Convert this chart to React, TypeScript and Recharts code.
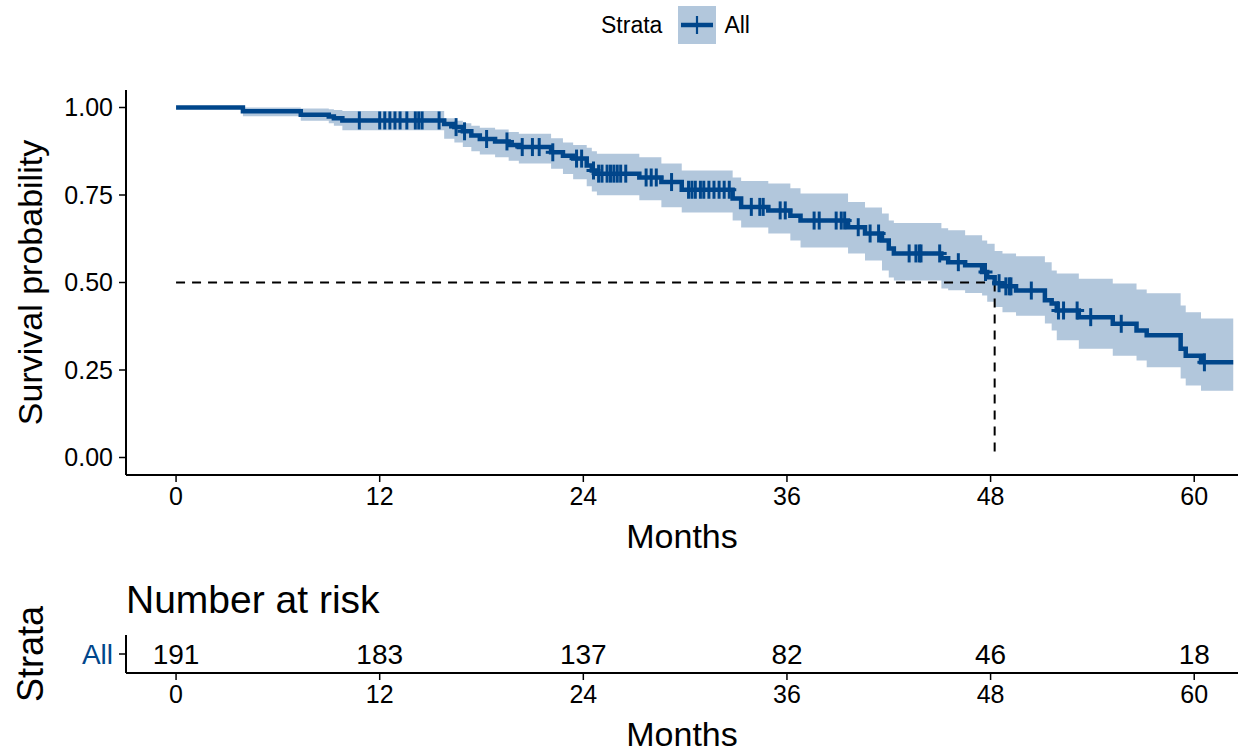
import React from 'react';
import {
  ComposedChart,
  Area,
  Line,
  Scatter,
  XAxis,
  YAxis,
  ReferenceLine,
} from 'recharts';

const FONT = '"Liberation Sans", Arial, Helvetica, sans-serif';
const BLUE = '#00468B';
const BAND = '#B2C7DC';

// Kaplan-Meier estimate: event times (months), survival and 95% confidence limits
const eventTimes = [
  0, 3.94, 7.35, 9.0, 9.3, 9.8, 15.8, 16.4, 16.9, 17.4, 17.9, 18.8, 19.6, 20.2,
  22.1, 22.8, 23.4, 24.2, 24.5, 24.8, 27.3, 28.6, 29.8, 32.8, 33.3, 34.9, 36.2,
  36.8, 39.6, 40.6, 41.6, 42.0, 42.3, 45.1, 45.5, 46.5, 47.5, 47.8, 48.24, 48.7,
  49.5, 51.2, 51.6, 51.9, 53.2, 55.2, 56.6, 57.2, 59.2, 59.5, 60.4, 62.3,
];
const survival = [
  1, 0.989, 0.979, 0.974, 0.969, 0.963, 0.953, 0.944, 0.932, 0.92, 0.91, 0.903,
  0.893, 0.887, 0.872, 0.862, 0.854, 0.834, 0.82, 0.811, 0.8, 0.787, 0.765, 0.74,
  0.716, 0.706, 0.691, 0.677, 0.658, 0.64, 0.62, 0.597, 0.583, 0.569, 0.558,
  0.549, 0.53, 0.515, 0.498, 0.489, 0.477, 0.449, 0.44, 0.42, 0.401, 0.382,
  0.363, 0.349, 0.311, 0.291, 0.272, 0.272,
];
const lowerCI = [
  1, 0.975, 0.962, 0.955, 0.948, 0.935, 0.911, 0.9, 0.887, 0.875, 0.866, 0.858,
  0.848, 0.84, 0.825, 0.81, 0.795, 0.775, 0.76, 0.749, 0.735, 0.715, 0.7, 0.677,
  0.657, 0.64, 0.62, 0.6, 0.583, 0.563, 0.534, 0.514, 0.506, 0.483, 0.478, 0.47,
  0.463, 0.445, 0.43, 0.415, 0.405, 0.383, 0.363, 0.335, 0.311, 0.291, 0.277,
  0.258, 0.226, 0.206, 0.191, 0.191,
];
const upperCI = [
  1, 1, 0.997, 0.995, 0.993, 0.99, 0.969, 0.962, 0.955, 0.948, 0.942, 0.937,
  0.93, 0.925, 0.912, 0.9, 0.893, 0.885, 0.875, 0.868, 0.858, 0.84, 0.82, 0.8,
  0.79, 0.783, 0.769, 0.754, 0.73, 0.714, 0.697, 0.677, 0.67, 0.655, 0.649,
  0.635, 0.62, 0.611, 0.59, 0.583, 0.575, 0.558, 0.534, 0.526, 0.511, 0.497,
  0.48, 0.469, 0.434, 0.415, 0.397, 0.397,
];

// Censoring times (months)
const censorTimes = [
  10.8, 12.0, 12.3, 12.6, 12.9, 13.2, 13.6, 14.1, 14.3, 14.5, 15.5, 16.5, 17.0,
  18.3, 19.5, 20.4, 21.0, 21.4, 22.2, 23.6, 23.9, 24.6, 24.9, 25.1, 25.4, 25.6,
  25.8, 26.0, 26.2, 26.5, 27.7, 28.0, 28.3, 29.2, 30.2, 30.4, 30.6, 30.9, 31.1,
  31.4, 31.7, 32.0, 32.3, 32.6, 33.9, 34.4, 34.6, 35.6, 35.9, 37.6, 37.9, 38.9,
  39.2, 39.4, 40.2, 40.9, 41.4, 43.2, 43.6, 43.8, 43.9, 45.0, 46.1, 47.7, 48.5,
  48.9, 49.1, 49.2, 50.4, 52.0, 52.3, 53.1, 53.9, 55.7, 60.6,
];

// Number at risk table
const riskTimes = [0, 12, 24, 36, 48, 60];
const riskCounts = [191, 183, 137, 82, 46, 18];

const xTicks = [0, 12, 24, 36, 48, 60];
const yTicks = [0, 0.25, 0.5, 0.75, 1];
const xDomain: [number, number] = [-2.95, 62.58];

const curveData = eventTimes.map((t, i) => ({
  t,
  s: survival[i],
  band: [lowerCI[i], upperCI[i]],
}));

const survivalAt = (t: number) => {
  let v = survival[0];
  for (let i = 0; i < eventTimes.length; i++) {
    if (eventTimes[i] <= t) v = survival[i];
  }
  return v;
};

const censorData = censorTimes.map((t) => ({ t, s: survivalAt(t) }));
const medianIndex = survival.findIndex((s) => s <= 0.5);
const medianTime = eventTimes[medianIndex];

const riskData = riskTimes.map((t, i) => ({ t, y: 0.5, n: riskCounts[i] }));

const PlusMark = (props: any) => {
  const { cx, cy } = props;
  if (cx == null || cy == null) return null;
  return (
    <g>
      <line x1={cx} x2={cx} y1={cy - 9} y2={cy + 9} stroke={BLUE} strokeWidth={3} />
      <line x1={cx - 7} x2={cx + 7} y1={cy} y2={cy} stroke={BLUE} strokeWidth={3} />
    </g>
  );
};

const RiskText = (props: any) => {
  const { cx, cy, payload } = props;
  if (cx == null || cy == null) return null;
  return (
    <text
      x={cx}
      y={cy}
      textAnchor="middle"
      dominantBaseline="central"
      fontFamily={FONT}
      fontSize={28}
      fill="#000"
    >
      {payload.n}
    </text>
  );
};

const tickStyle = { fill: '#000', fontSize: 25, fontFamily: FONT };
const axisLine = { stroke: '#000', strokeWidth: 2 };
const tickLine = { stroke: '#000', strokeWidth: 1.5 };

const RotatedTitle = (text: string, size: number) => (p: any) => {
  const vb = p.viewBox;
  const x = 30;
  const y = vb.y + vb.height / 2;
  return (
    <text
      x={x}
      y={y}
      transform={`rotate(-90 ${x} ${y})`}
      textAnchor="middle"
      dominantBaseline="central"
      fontFamily={FONT}
      fontSize={size}
      fill="#000"
    >
      {text}
    </text>
  );
};

const BottomTitle = (p: any) => {
  const vb = p.viewBox;
  return (
    <text
      x={vb.x + vb.width / 2}
      y={vb.y + 61}
      textAnchor="middle"
      dominantBaseline="central"
      fontFamily={FONT}
      fontSize={34}
      fill="#000"
    >
      Months
    </text>
  );
};

export default function App() {
  return (
    <div
      style={{
        position: 'absolute',
        left: 0,
        top: 0,
        width: 1238,
        height: 755,
        background: '#fff',
        fontFamily: FONT,
      }}
    >
      {/* legend */}
      <div
        style={{
          position: 'absolute',
          left: 601,
          top: 6,
          height: 38,
          display: 'flex',
          alignItems: 'center',
          fontSize: 23,
          lineHeight: 1,
          color: '#000',
        }}
      >
        <span style={{ marginRight: 16 }}>Strata</span>
        <svg width={38} height={38} style={{ display: 'block' }}>
          <rect x={0} y={0} width={38} height={38} fill={BAND} />
          <line x1={3} x2={35} y1={19} y2={19} stroke={BLUE} strokeWidth={4.5} />
          <line x1={19} x2={19} y1={10} y2={28} stroke={BLUE} strokeWidth={2.2} />
        </svg>
        <span style={{ marginLeft: 8 }}>All</span>
      </div>

      <div style={{ position: 'absolute', left: 0, top: 0 }}>
        <ComposedChart
          width={1238}
          height={560}
          data={curveData}
          margin={{ top: 90, right: 0, bottom: 0, left: 0 }}
        >
          <XAxis
            type="number"
            dataKey="t"
            domain={xDomain}
            allowDataOverflow
            ticks={xTicks}
            tick={tickStyle}
            tickSize={7}
            tickMargin={5}
            axisLine={axisLine}
            tickLine={tickLine}
            height={85}
            label={{ content: BottomTitle }}
          />
          <YAxis
            type="number"
            domain={[-0.05, 1.05]}
            allowDataOverflow
            ticks={yTicks}
            tickFormatter={(v: number) => v.toFixed(2)}
            tick={tickStyle}
            tickSize={7}
            tickMargin={6}
            axisLine={axisLine}
            tickLine={tickLine}
            width={126}
            label={{ content: RotatedTitle('Survival probability', 34) }}
          />
          <Area
            type="stepAfter"
            dataKey="band"
            stroke="none"
            fill={BLUE}
            fillOpacity={0.3}
            isAnimationActive={false}
          />
          <ReferenceLine
            segment={[
              { x: 0, y: 0.5 },
              { x: medianTime, y: 0.5 },
            ]}
            stroke="#000"
            strokeWidth={2}
            strokeDasharray="9 7"
          />
          <ReferenceLine
            segment={[
              { x: medianTime, y: 0.5 },
              { x: medianTime, y: 0 },
            ]}
            stroke="#000"
            strokeWidth={2}
            strokeDasharray="9 7"
          />
          <Line
            type="stepAfter"
            dataKey="s"
            stroke={BLUE}
            strokeWidth={4.5}
            dot={false}
            activeDot={false}
            isAnimationActive={false}
          />
          <Scatter
            data={censorData}
            dataKey="s"
            shape={PlusMark}
            isAnimationActive={false}
          />
        </ComposedChart>
      </div>

      {/* risk table title */}
      <div
        style={{
          position: 'absolute',
          left: 126,
          top: 580,
          fontSize: 39,
          lineHeight: 1,
          color: '#000',
          whiteSpace: 'nowrap',
        }}
      >
        Number at risk
      </div>

      <div style={{ position: 'absolute', left: 0, top: 560 }}>
        <ComposedChart
          width={1238}
          height={195}
          data={riskData}
          margin={{ top: 75, right: 0, bottom: 0, left: 0 }}
        >
          <XAxis
            type="number"
            dataKey="t"
            domain={xDomain}
            allowDataOverflow
            ticks={xTicks}
            tick={tickStyle}
            tickSize={7}
            tickMargin={5}
            axisLine={axisLine}
            tickLine={tickLine}
            height={82}
            label={{ content: BottomTitle }}
          />
          <YAxis
            type="number"
            dataKey="y"
            domain={[0, 1]}
            allowDataOverflow
            ticks={[0.5]}
            tickFormatter={() => 'All'}
            tick={{ fill: BLUE, fontSize: 28, fontFamily: FONT }}
            tickSize={7}
            tickMargin={6}
            axisLine={axisLine}
            tickLine={tickLine}
            width={126}
            label={{ content: RotatedTitle('Strata', 36) }}
          />
          <Scatter
            data={riskData}
            dataKey="y"
            shape={RiskText}
            isAnimationActive={false}
          />
        </ComposedChart>
      </div>
    </div>
  );
}
